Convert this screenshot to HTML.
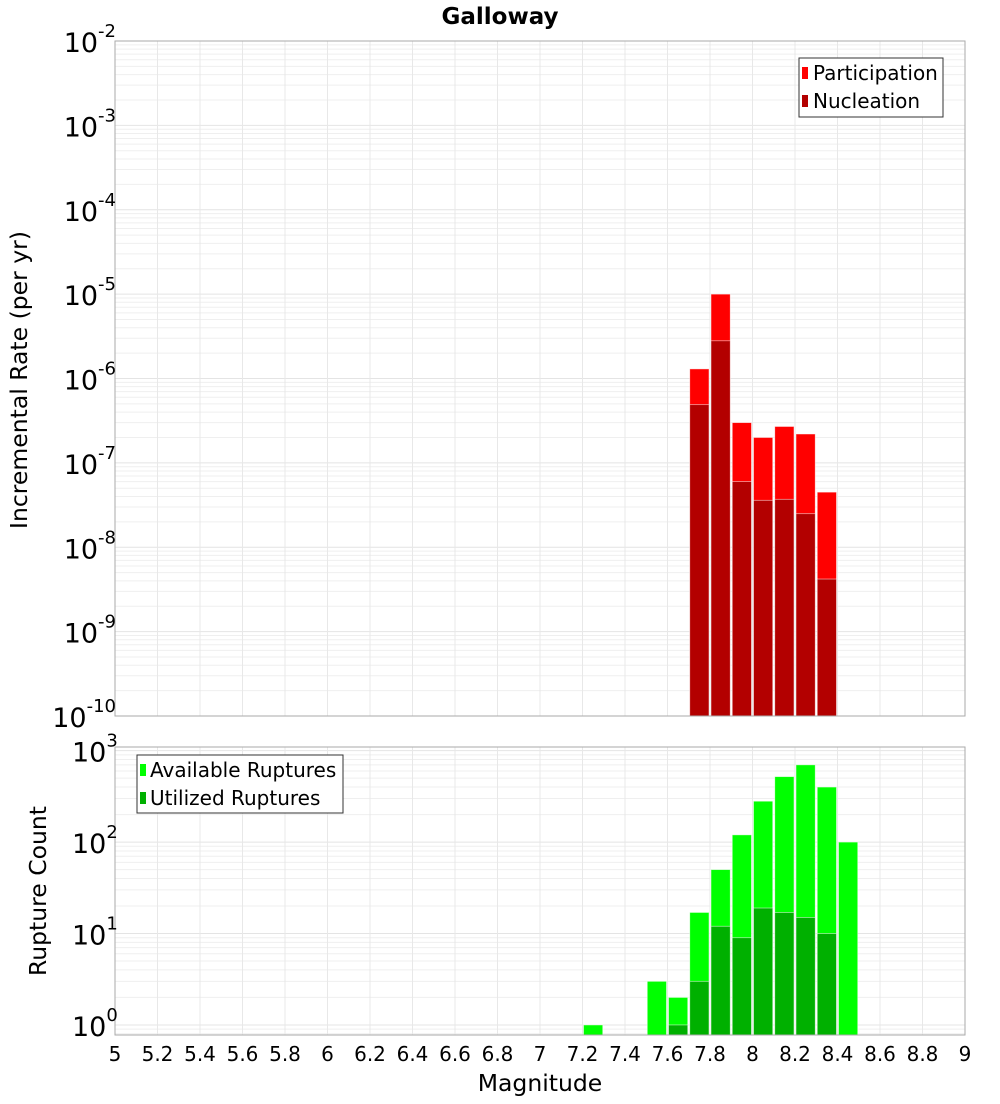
<!DOCTYPE html>
<html><head><meta charset="utf-8"><style>
body{margin:0;background:#fff;font-family:"DejaVu Sans","Liberation Sans",sans-serif;}
svg text{font-family:"DejaVu Sans","Liberation Sans",sans-serif;}
</style></head><body>
<svg id="c" width="1000" height="1100" xmlns="http://www.w3.org/2000/svg"></svg>
<script>
const magBins=[7.25,7.55,7.65,7.75,7.85,7.95,8.05,8.15,8.25,8.35,8.45];
const available=[1,3,2,17,50,120,280,520,700,400,100];
const utilized=[0,0,1,3,12,9,19,17,15,10,0];
const rateBins=[7.75,7.85,7.95,8.05,8.15,8.25,8.35];
const participation=[1.3e-6,1e-5,3.0e-7,2.0e-7,2.7e-7,2.2e-7,4.5e-8];
const nucleation=[4.9e-7,2.8e-6,6.0e-8,3.6e-8,3.7e-8,2.5e-8,4.2e-9];
const xTicks=[5,5.2,5.4,5.6,5.8,6,6.2,6.4,6.6,6.8,7,7.2,7.4,7.6,7.8,8,8.2,8.4,8.6,8.8,9];
const topExps=[-2,-3,-4,-5,-6,-7,-8,-9,-10];
const botExps=[0,1,2,3];

const NS="http://www.w3.org/2000/svg";
const svg=document.getElementById('c');
function el(t,a,txt){const e=document.createElementNS(NS,t);for(const k in a)e.setAttribute(k,a[k]);if(txt!==undefined)e.textContent=txt;svg.appendChild(e);return e;}
const X0=115,X1=965;
const xs=m=>X0+(m-5)/4*(X1-X0);
const T0=41,T1=716;
const yTop=v=>T0+(-2-Math.log10(v))/8*(T1-T0);
const B0=747,B1=1035,bMin=-0.11,bMax=3.04;
const yBot=v=>B1-(Math.log10(v)-bMin)/(bMax-bMin)*(B1-B0);

for(let e=-10;e<-2;e++)for(let k=1;k<10;k++){const y=yTop(k*Math.pow(10,e));const g=el('line',{x1:X0,x2:X1,y1:y,y2:y,stroke:k==1?'#e4e4e4':'#efefef','stroke-width':1});}
for(let e=-1;e<4;e++)for(let k=1;k<10;k++){const v=k*Math.pow(10,e);const lv=Math.log10(v);if(lv<bMin||lv>bMax)continue;const y=yBot(v);const g=el('line',{x1:X0,x2:X1,y1:y,y2:y,stroke:k==1?'#e4e4e4':'#efefef','stroke-width':1});}
xTicks.forEach(t=>{const x=xs(t);[[T0,T1],[B0,B1]].forEach(r=>{const g=el('line',{x1:x,x2:x,y1:r[0],y2:r[1],stroke:'#e8e8e8'});});});

const bw=(X1-X0)/40;
function bar(m,v,yf,base,fill,name){const x=xs(m)-bw/2+1;const y=yf(v);const b=el('rect',{x:x,y:y,width:bw-2,height:base-y,fill:fill,stroke:'rgba(255,255,255,0.6)','stroke-width':0.8});}
rateBins.forEach((m,i)=>bar(m,participation[i],yTop,T1,'#ff0000','participation-bar'));
rateBins.forEach((m,i)=>bar(m,nucleation[i],yTop,T1,'#b30000','nucleation-bar'));
magBins.forEach((m,i)=>bar(m,available[i],yBot,B1,'#00ff00','available-bar'));
magBins.forEach((m,i)=>{if(utilized[i]>0)bar(m,utilized[i],yBot,B1,'#00b000','utilized-bar');});

const f1=el('rect',{x:X0,y:T0,width:X1-X0,height:T1-T0,fill:'none',stroke:'#aaa'});
const f2=el('rect',{x:X0,y:B0,width:X1-X0,height:B1-B0,fill:'none',stroke:'#aaa'});

topExps.forEach(e=>{const y=yTop(Math.pow(10,e));const t=el('text',{x:116,y:y+11,'text-anchor':'end','font-size':27});t.innerHTML='10<tspan dy="-15" font-size="18">'+e+'</tspan>';});
botExps.forEach(e=>{const y=yBot(Math.pow(10,e));const t=el('text',{x:72,y:y+11,'font-size':27});t.innerHTML='10<tspan dy="-15" font-size="18">'+e+'</tspan>';});
xTicks.forEach(v=>{const t=el('text',{x:xs(v),y:1061,'text-anchor':'middle','font-size':20},String(v));});

let t;
t=el('text',{x:500,y:24,'text-anchor':'middle','font-size':23,'font-weight':'bold'},'Galloway');
t=el('text',{x:540,y:1091,'text-anchor':'middle','font-size':23.5},'Magnitude');
t=el('text',{x:0,y:0,'text-anchor':'middle','font-size':23.5,transform:'translate(27,380) rotate(-90)'},'Incremental Rate (per yr)');
t=el('text',{x:0,y:0,'text-anchor':'middle','font-size':23.5,transform:'translate(46,891) rotate(-90)'},'Rupture Count');

let r=el('rect',{x:799,y:58,width:144,height:59,fill:'#fff',stroke:'#333'});
r=el('rect',{x:802,y:67,width:6,height:12,fill:'#ff0000'});
t=el('text',{x:813,y:80,'font-size':20},'Participation');
r=el('rect',{x:802,y:95,width:6,height:12,fill:'#b30000'});
t=el('text',{x:813,y:108,'font-size':20},'Nucleation');
r=el('rect',{x:137,y:755,width:206,height:58,fill:'#fff',stroke:'#333'});
r=el('rect',{x:140,y:764,width:6,height:12,fill:'#00ff00'});
t=el('text',{x:150,y:777,'font-size':20},'Available Ruptures');
r=el('rect',{x:140,y:792,width:6,height:12,fill:'#00b000'});
t=el('text',{x:150,y:805,'font-size':20},'Utilized Ruptures');
</script>
</body></html>
